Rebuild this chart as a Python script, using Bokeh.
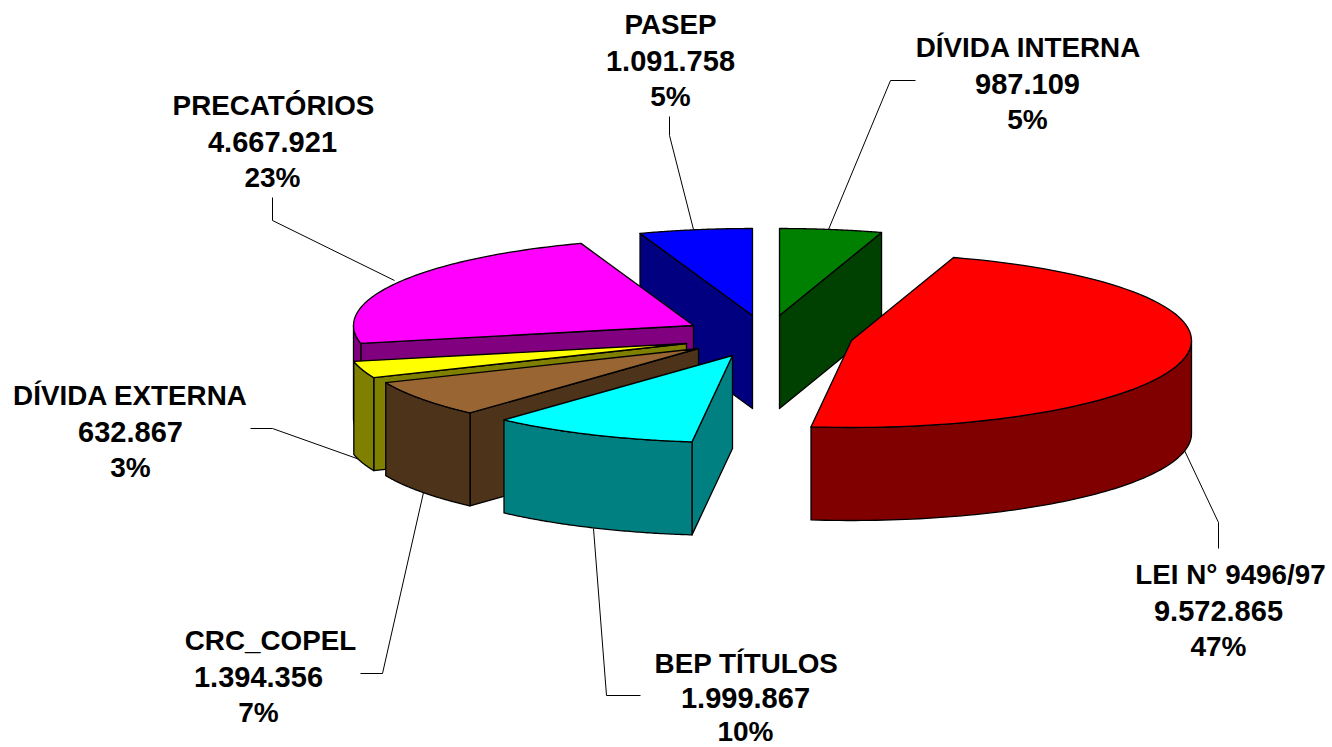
import numpy as np
from bokeh.plotting import figure
from bokeh.embed import file_html
from bokeh.resources import INLINE
from bokeh.core.properties import value
from bokeh.models import Range1d

# ---- data ----
names = ["DÍVIDA INTERNA", "LEI N° 9496/97", "BEP TÍTULOS", "CRC_COPEL",
         "DÍVIDA EXTERNA", "PRECATÓRIOS", "PASEP"]
values = [987109, 9572865, 1999867, 1394356, 632867, 4667921, 1091758]
percent_labels = ["5%", "47%", "10%", "7%", "3%", "23%", "5%"]

# ---- styles and layout (pixel space of the page) ----
top_colors = ["#008000", "#FF0000", "#00FFFF", "#996633", "#FFFF00", "#FF00FF", "#0000FF"]
side_colors = ["#004000", "#800000", "#008080", "#4D3319", "#808000", "#800080", "#000080"]
apex_x = [779, 851, 732, 698, 686, 693, 752]
apex_y = [315, 340, 355, 348, 343, 325, 315]
name_x = [1028, 1230, 746, 270, 130, 273, 670]
label_x = [1027, 1218, 745, 258, 130, 272, 670]
label_y = [47, 574, 663, 640, 395, 105, 24]
line_gaps = [36, 36, 34, 36, 36, 36, 36]
line_sizes = ["27.8px", "29px", "28px"]
RX, RY, DEPTH = 340, 87, 93
draw_order = [6, 0, 5, 4, 3, 2, 1]
leader_x = [[828, 890, 915], [1184, 1218, 1218], [593, 606, 640], [423, 382, 360],
            [362, 272, 250], [394, 272, 272], [693, 669, 669]]
leader_y = [[229, 80, 80], [450, 522, 548], [528, 695, 695], [492, 673, 673],
            [460, 428, 428], [280, 220, 197], [229, 135, 116]]

# ---- geometry from the values ----
total = sum(values)
edges = 2 * np.pi * np.cumsum([0] + values) / total


def arc(i, a0, a1, n=80):
    t = np.linspace(a0, a1, n)
    return apex_x[i] + RX * np.sin(t), apex_y[i] - RY * np.cos(t)


p = figure(width=1332, height=747, output_backend="svg", toolbar_location=None,
           x_range=Range1d(0, 1332), y_range=Range1d(747, 0),
           x_axis_type=None, y_axis_type=None, min_border=0,
           outline_line_color=None, background_fill_color="white")
p.grid.visible = False

for xs, ys in zip(leader_x, leader_y):
    p.line(xs, ys, line_color="black", line_width=1)


def poly(xs, ys, color):
    p.patch(list(xs), list(ys), fill_color=color, line_color="black",
            line_width=1.3, line_join="round")


for i in draw_order:
    a0, a1 = edges[i], edges[i + 1]
    ax, ay = apex_x[i], apex_y[i]
    # radial face at the end of the slice (seen on the right half)
    if a1 < np.pi / 2:
        ex, ey = arc(i, a1, a1, 1)
        poly([ax, ex[0], ex[0], ax], [ay, ey[0], ey[0] + DEPTH, ay + DEPTH], side_colors[i])
    # radial face at the start of the slice (seen when it faces the viewer)
    if a0 > np.pi / 2:
        sx, sy = arc(i, a0, a0, 1)
        poly([ax, sx[0], sx[0], ax], [ay, sy[0], sy[0] + DEPTH, ay + DEPTH], side_colors[i])
    # outer wall: the front half of the rim only
    w0, w1 = max(a0, np.pi / 2), min(a1, 3 * np.pi / 2)
    if w1 > w0:
        wx, wy = arc(i, w0, w1)
        poly(np.r_[wx, wx[::-1]], np.r_[wy, wy[::-1] + DEPTH], side_colors[i])
    # top face
    tx, ty = arc(i, a0, a1)
    poly(np.r_[ax, tx], np.r_[ay, ty], top_colors[i])

for i, name in enumerate(names):
    lines = [name, f"{values[i]:,}".replace(",", "."), percent_labels[i]]
    for k, line in enumerate(lines):
        x = name_x[i] if k == 0 else label_x[i]
        p.text([x], [label_y[i] + k * line_gaps[i]], text=[line],
               text_font=value("Liberation Sans"), text_font_style="bold",
               text_font_size=line_sizes[k], text_color="black",
               text_align="center", text_baseline="middle")

open("out.html", "w").write(file_html(p, INLINE))
